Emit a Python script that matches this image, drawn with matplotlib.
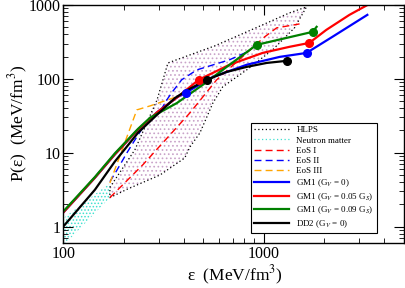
import numpy as np
import matplotlib
matplotlib.use("Agg")
import matplotlib.pyplot as plt
from matplotlib.ticker import FuncFormatter, NullFormatter

plt.rcParams['font.family'] = ['Liberation Serif', 'DejaVu Serif']
plt.rcParams['mathtext.fontset'] = 'stix'
plt.rcParams['hatch.linewidth'] = 0.7

# bandas (energia, presion)
hlps_sup_e = [171, 228, 294, 333, 570, 988, 1346, 1636]
hlps_sup_p = [3.4, 11, 52, 164, 279, 537, 780, 940]
hlps_inf_e = [171, 208, 304, 404, 429, 481, 558, 625, 823, 1109, 1425, 1636]
hlps_inf_p = [2.47, 3.2, 5.0, 8.5, 12, 18.6, 47, 78, 132, 247, 489, 940]

neutron_e = [100, 171]
neutron_sup = [1.3, 3.9]
neutron_inf = [0.55, 2.47]

# EoS por tramos
eos1_e = [171, 250, 429, 583, 823, 1012, 1161, 1510]
eos1_p = [2.47, 6.9, 34.7, 97, 224, 370, 489, 553]
eos2_e = [171, 186, 208, 233, 265, 304, 329, 348, 390, 464, 676, 851]
eos2_p = [4.06, 5.9, 10, 16.4, 28, 36, 52, 65, 97, 132, 181, 239]
eos3_e = [171, 197, 233, 271, 395]
eos3_p = [3.9, 11, 38, 43, 61]

# GM1 y DD2
gm1_0_e = [100, 144, 181, 236, 297, 373, 409, 558, 823, 1202, 1636, 2203, 3290]
gm1_0_p = [1.55, 4.6, 9.5, 20.5, 36, 57, 65, 106, 155, 198, 224, 370, 733]
gm1_0_pts_e = [409, 1636]
gm1_0_pts_p = [65, 224]

gm1_05_e = [100, 144, 181, 236, 297, 373, 474, 676, 988, 1346, 1689, 2053, 2678, 3300]
gm1_05_p = [1.55, 4.6, 9.5, 20.5, 36, 57, 97, 155, 224, 271, 306, 459, 733, 1000]
gm1_05_pts_e = [474, 1689]
gm1_05_pts_p = [97, 306]

gm1_09_e = [100, 144, 181, 236, 271, 369, 497, 654, 922, 1755, 1837]
gm1_09_p = [1.6, 4.7, 9.8, 21, 29.7, 47, 83, 145, 288, 432, 505]
gm1_09_pts_e = [922, 1755]
gm1_09_pts_p = [288, 432]

dd2_e = [100, 144, 181, 236, 294, 361, 419, 520, 654, 823, 1035, 1300]
dd2_p = [1.0, 3.16, 7.6, 18.6, 32.7, 55, 71, 97, 124, 145, 164, 175]
dd2_pts_e = [520, 1300]
dd2_pts_p = [97, 175]

fig = plt.figure(figsize=(4.05, 2.88), dpi=100)
ax = fig.add_axes([0.156, 0.156, 0.841, 0.827])

# banda HLPS
poly_e = hlps_sup_e + hlps_inf_e[::-1]
poly_p = hlps_sup_p + hlps_inf_p[::-1]
ax.fill(poly_e, poly_p, facecolor='none', edgecolor='#c9a3c9', hatch='....', lw=0)
ax.plot(poly_e + [poly_e[0]], poly_p + [poly_p[0]], color='black', ls=(0, (1, 2)), lw=0.9, label='HLPS')

# materia de neutrones
ax.fill_between(neutron_e, neutron_inf, neutron_sup, facecolor='none', edgecolor='#40e0d0', hatch='.....', lw=0)
ax.plot([], [], color='#40e0d0', ls=(0, (1, 2)), lw=0.9, label='Neutron matter')

ax.plot(eos1_e, eos1_p, color='red', ls=(0, (5, 3)), lw=1.0, label='EoS I')
ax.plot(eos2_e, eos2_p, color='blue', ls=(0, (5, 3)), lw=1.0, label='EoS II')
ax.plot(eos3_e, eos3_p, color='orange', ls=(0, (5, 3)), lw=1.0, label='EoS III')

ax.plot(gm1_0_e, gm1_0_p, color='blue', lw=1.6, label='GM1 (G$_V$ = 0)')
ax.plot(gm1_05_e, gm1_05_p, color='red', lw=1.6, label='GM1 (G$_V$ = 0.05 G$_S$)')
ax.plot(gm1_09_e, gm1_09_p, color='green', lw=1.6, label='GM1 (G$_V$ = 0.09 G$_S$)')
ax.plot(dd2_e, dd2_p, color='black', lw=1.6, label='DD2 (G$_V$ = 0)')

ax.plot(gm1_0_pts_e, gm1_0_pts_p, 'o', color='blue', ms=5.5)
ax.plot(gm1_05_pts_e, gm1_05_pts_p, 'o', color='red', ms=5.5)
ax.plot(gm1_09_pts_e, gm1_09_pts_p, 'o', color='green', ms=5.5)
ax.plot(dd2_pts_e, dd2_pts_p, 'o', color='black', ms=5.5)

ax.set_xscale('log')
ax.set_yscale('log')
ax.set_xlim(100, 5000)
ax.set_ylim(0.6, 1000)

fmt = FuncFormatter(lambda v, pos: '%d' % v)
ax.xaxis.set_major_formatter(fmt)
ax.yaxis.set_major_formatter(fmt)
ax.xaxis.set_minor_formatter(NullFormatter())
ax.yaxis.set_minor_formatter(NullFormatter())
ax.tick_params(which='both', direction='in', top=True, right=True, labelsize=11.5)
ax.tick_params(which='major', length=7, pad=2)
ax.tick_params(which='minor', length=3.5)
for s in ax.spines.values():
    s.set_linewidth(1.0)

ax.set_xlabel('ε  (MeV/fm$^3$)', fontsize=12.5)
ax.set_ylabel('P(ε)  (MeV/fm$^3$)', fontsize=12.5)
ax.xaxis.set_label_coords(0.505, -0.088)
ax.yaxis.set_label_coords(-0.098, 0.5)

leg = ax.legend(loc='lower right', bbox_to_anchor=(0.921, 0.042), fontsize=6.5, frameon=True,
                fancybox=False, edgecolor='black', framealpha=1, handlelength=3.9,
                labelspacing=0.22, borderpad=0.35, handletextpad=0.8, borderaxespad=0)
leg.get_frame().set_linewidth(0.8)

fig.savefig('out.png', dpi=100)
